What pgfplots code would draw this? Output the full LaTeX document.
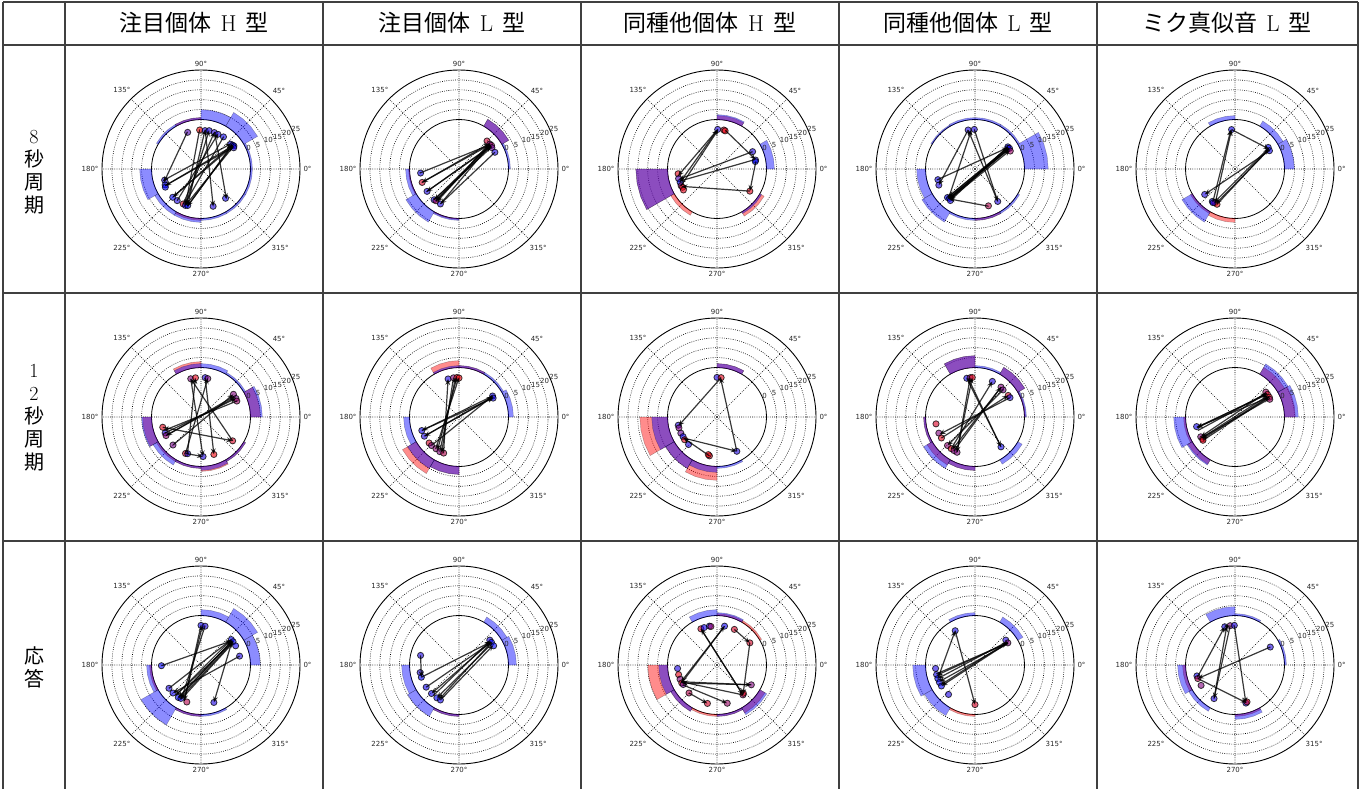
\documentclass[border=0pt]{standalone}
\usepackage{fontspec}
\usepackage{pgfplots}
\pgfplotsset{compat=1.18}
\usepgfplotslibrary{polar}
\usetikzlibrary{arrows.meta}
\newfontfamily\cjk{Noto Sans CJK JP}
\newfontfamily\dv{DejaVu Sans}
\newcommand\J[1]{{\cjk #1}}

\newcommand\Wdg[3]{%
  \pgfmathsetmacro\wdgA{#1}\pgfmathsetmacro\wdgB{#1+10}\pgfmathsetmacro\wdgC{#1+20}%
  \pgfmathsetmacro\wdgD{#1+30}\pgfmathsetmacro\wdgR{25+#2}%
  \addplot[draw=black, draw opacity=0.3, line width=0.4pt, fill=#3, fill opacity=0.45]
    coordinates {(\wdgA,25) (\wdgA,\wdgR) (\wdgB,\wdgR) (\wdgC,\wdgR) (\wdgD,\wdgR) (\wdgD,25) (\wdgC,25) (\wdgB,25)} -- cycle;}
\newcommand\Rw[2]{\Wdg{#1}{#2}{red}}
\newcommand\Bw[2]{\Wdg{#1}{#2}{blue}}
\newcommand\Ar[2]{\addplot[black, opacity=0.78, line width=1.2pt, -{Stealth[length=6pt,width=4.8pt]}] coordinates {(#1,20) (#2,20)};}
\newcommand\Pts[1]{\addplot[scatter, only marks, mark=*, mark size=3.1pt, point meta=explicit, scatter/use mapped color={draw=black, fill=mapped color}, fill opacity=0.6, draw opacity=0.75, line width=0.8pt] coordinates {#1};}
\tikzset{rlab/.style={font=\dv\fontsize{7}{8}\selectfont, text=black!85, inner sep=0pt}}
\newcommand\rl{%
  \node[rlab] at (axis cs:24,26.3) {0};
  \node[rlab] at (axis cs:23,31.3) {5};
  \node[rlab] at (axis cs:23,37) {10};
  \node[rlab] at (axis cs:23,42) {15};
  \node[rlab] at (axis cs:23,47) {20};
  \node[rlab] at (axis cs:23,52) {25};}

\pgfplotsset{
  panel/.style={
    anchor=center, width=198pt, height=198pt, scale only axis,
    xmin=0, xmax=360, ymin=0, ymax=50, clip=false, clip marker paths=true,
    xtick={0,45,...,315},
    xticklabels={0°,45°,90°,135°,180°,225°,270°,315°},
    xticklabel style={font=\dv\fontsize{7}{8}\selectfont, text=black!85},
    ytick={30,35,40,45}, yticklabels={},
    extra y ticks={25}, extra y tick labels={},
    extra y tick style={major grid style={solid, black, line width=0.8pt}},
    grid=major, major grid style={dash pattern=on 0.8pt off 1.4pt, black, line width=0.6pt},
    major tick length=0pt,
    axis line style={black, line width=0.9pt},
    y axis line style={draw=none},
    colormap={br}{rgb255=(0,0,255) rgb255=(255,0,0)},
    point meta min=0, point meta max=1,
  },
}

\begin{document}
\begin{tikzpicture}
\path[use as bounding box] (0,0) rectangle (1370pt,-789pt);
% table lines
\begin{scope}[line width=1.2pt, black!75]
\draw (3pt,-2pt) -- (1358pt,-2pt);
\draw (3pt,-45pt) -- (1358pt,-45pt);
\draw (3pt,-293pt) -- (1358pt,-293pt);
\draw (3pt,-541pt) -- (1358pt,-541pt);
\foreach \x in {3,65,323,581,839,1097,1358} \draw (\x pt,-2pt) -- (\x pt,-789pt);
\end{scope}
\begin{scope}[every node/.style={font=\fontsize{23}{25}\selectfont}]
\node at (194pt,-23pt) {\J{注目個体}\hspace{0.4em}H\hspace{0.4em}\J{型}};
\node at (452pt,-23pt) {\J{注目個体}\hspace{0.4em}L\hspace{0.4em}\J{型}};
\node at (710pt,-23pt) {\J{同種他個体}\hspace{0.4em}H\hspace{0.4em}\J{型}};
\node at (968pt,-23pt) {\J{同種他個体}\hspace{0.4em}L\hspace{0.4em}\J{型}};
\node at (1227pt,-23pt) {\J{ミク真似音}\hspace{0.4em}L\hspace{0.4em}\J{型}};
\end{scope}
\begin{scope}[every node/.style={font=\fontsize{20}{23}\selectfont, align=center}]
\node at (34pt,-172pt) {8\\\J{秒}\\\J{周}\\\J{期}};
\node at (34pt,-418pt) {1\\2\\\J{秒}\\\J{周}\\\J{期}};
\node at (34pt,-667pt) {\J{応}\\\J{答}};
\end{scope}

% ---------------- row 1 ----------------
\begin{polaraxis}[panel, at={(201pt,-169pt)}]
\Rw{90}{1}\Rw{240}{1}
\Bw{0}{1}\Bw{30}{8}\Bw{60}{5}\Bw{90}{1}\Bw{120}{1}\Bw{180}{6}\Bw{210}{2}\Bw{240}{2}\Bw{270}{1}\Bw{300}{1}\Bw{330}{1}
\Pts{(110,19.7)[0.3] (92,19.7)[1] (84,19.5)[0.1] (78,19.8)[0.1] (70,19.6)[0.15] (64,19.5)[0.1] (55,19.8)[0.05] (40,19.5)[0] (37,20)[0] (35,20.3)[0] (33,19.7)[0.1] (197,19.2)[0.1] (204,19.8)[0] (207,20.2)[0] (225,20.2)[0] (233,20)[0.1] (243,19.8)[0.85] (247,20)[0] (250,19.6)[0] (288,19.8)[0.1] (310,19.3)[0.05]}
\Ar{247}{78}\Ar{250}{84}\Ar{243}{70}\Ar{84}{288}\Ar{70}{310}\Ar{233}{64}\Ar{55}{245}\Ar{37}{250}\Ar{35}{247}\Ar{38}{225}\Ar{36}{205}\Ar{205}{34}\Ar{197}{40}\Ar{110}{200}\Ar{92}{247}\Ar{250}{38}\Ar{225}{36}
\rl
\end{polaraxis}

\begin{polaraxis}[panel, at={(459pt,-169pt)}]
\Rw{30}{4}\Rw{180}{0.5}\Rw{240}{0.5}
\Bw{30}{4}\Bw{0}{1}\Bw{180}{2}\Bw{210}{6}\Bw{240}{1}
\Pts{(45,20)[0.8] (39,20)[0.5] (36,20.3)[0.6] (33,19.8)[0.4] (25,20)[0.1] (186,19.5)[0.05] (200,19.8)[0.85] (215,19.7)[0.1] (231,20)[0.05] (234,19.8)[0.65] (242,20)[0.1]}
\Ar{186}{38}\Ar{38}{200}\Ar{200}{40}\Ar{36}{215}\Ar{215}{35}\Ar{34}{231}\Ar{231}{37}\Ar{39}{234}\Ar{234}{36}\Ar{25}{242}\Ar{242}{38}\Ar{40}{236}
\rl
\end{polaraxis}

\begin{polaraxis}[panel, at={(717pt,-169pt)}]
\Rw{60}{2}\Rw{180}{16}\Rw{210}{2}\Rw{300}{2.5}
\Bw{60}{2.5}\Bw{0}{4}\Bw{180}{16}\Bw{300}{1}
\Pts{(89,20)[0.1] (80,20)[0.85] (78,19.7)[0.95] (26,20)[0.1] (13,20)[0.05] (11,19.7)[0] (326,20)[0.9] (187,19.8)[0.9] (194,20)[0.3] (200,19.8)[0] (205,20)[0.6] (208,19.7)[0.95] (212,20)[0.9]}
\Ar{89}{190}\Ar{205}{88}\Ar{78}{14}\Ar{14}{198}\Ar{26}{195}\Ar{11}{326}\Ar{326}{206}\Ar{200}{89}
\rl
\end{polaraxis}

\begin{polaraxis}[panel, at={(975pt,-169pt)}]
\Rw{270}{1}
\Bw{0}{12}\Bw{30}{1}\Bw{60}{1}\Bw{90}{1}\Bw{120}{0.7}\Bw{180}{4.5}\Bw{210}{6}\Bw{240}{1}\Bw{270}{1}\Bw{300}{1}
\Pts{(100,20)[0.1] (91,20)[0.1] (34,20)[0] (32,19.6)[0] (31,20.3)[0.1] (27,20)[0.6] (196,19.5)[0.05] (204,20)[0.1] (226,20)[0] (229,19.6)[0] (232,20.2)[0.05] (290,19.8)[0.7] (305,20)[0.1]}
\Ar{30}{228}\Ar{32}{226}\Ar{34}{230}\Ar{31}{229}\Ar{228}{31}\Ar{226}{33}\Ar{230}{28}\Ar{232}{34}\Ar{91}{305}\Ar{100}{204}\Ar{228}{95}\Ar{290}{229}\Ar{196}{33}\Ar{305}{100}
\rl
\end{polaraxis}

\begin{polaraxis}[panel, at={(1235pt,-169pt)}]
\Rw{210}{1}\Rw{240}{2}
\Bw{0}{5}\Bw{30}{3}\Bw{90}{2}\Bw{210}{6}
\Pts{(95,20)[0.05] (33,20)[0] (28,19.7)[0.05] (220,20)[0.1] (235,20)[0] (239,19.8)[0.9] (243,20)[0.95] (237,20.3)[0.1]}
\Ar{240}{95}\Ar{236}{96}\Ar{32}{238}\Ar{30}{241}\Ar{28}{220}\Ar{243}{31}\Ar{95}{30}
\rl
\end{polaraxis}

% ---------------- row 2 ----------------
\begin{polaraxis}[panel, at={(201pt,-417pt)}]
\Rw{0}{5}\Rw{90}{3}\Rw{180}{4.5}\Rw{210}{1}\Rw{240}{1}\Rw{270}{2.5}\Rw{300}{1}
\Bw{0}{6}\Bw{30}{1}\Bw{60}{2}\Bw{90}{2}\Bw{180}{5}\Bw{210}{3}\Bw{240}{1}\Bw{270}{2}\Bw{300}{1}
\Pts{(105,20)[0.5] (98,20)[0.9] (84,20)[0.1] (80,19.7)[0.5] (35,20)[0.5] (28,20)[0.45] (24,19.8)[0.6] (195,20)[0.9] (204,19.8)[0.1] (208,20)[0.55] (225,20)[0.45] (247,20)[0.85] (250,19.7)[0.1] (273,20)[0.1] (289,20)[0.95] (323,20)[0.85]}
\Ar{84}{289}\Ar{105}{273}\Ar{250}{98}\Ar{247}{80}\Ar{30}{208}\Ar{204}{28}\Ar{195}{323}\Ar{323}{105}\Ar{225}{35}\Ar{24}{200}\Ar{247}{273}\Ar{208}{32}
\rl
\end{polaraxis}

\begin{polaraxis}[panel, at={(459pt,-417pt)}]
\Rw{90}{3.5}\Rw{60}{1}\Rw{210}{8}\Rw{240}{4}
\Bw{90}{1}\Bw{60}{1}\Bw{30}{1}\Bw{0}{2.5}\Bw{180}{3}\Bw{210}{5}\Bw{240}{4}
\Pts{(106,20)[0.1] (98,20)[0.5] (93,20)[0.9] (90,19.7)[0.95] (32,20)[0.05] (29,19.7)[0.05] (200,20)[0.05] (209,20)[0.1] (221,20)[0.85] (226,20)[0.5] (234,19.8)[0.55] (241,20)[0.5] (247,19.8)[0.7]}
\Ar{32}{200}\Ar{30}{209}\Ar{209}{31}\Ar{241}{95}\Ar{247}{106}\Ar{93}{237}\Ar{98}{244}\Ar{226}{32}\Ar{200}{29}\Ar{234}{90}
\rl
\end{polaraxis}

\begin{polaraxis}[panel, at={(717pt,-417pt)}]
\Rw{60}{2}\Rw{180}{14}\Rw{210}{5}\Rw{240}{7}
\Bw{60}{2}\Bw{180}{8}\Bw{210}{5}\Bw{240}{3}\Bw{270}{1}
\Pts{(90,20)[0.1] (84,20)[0.9] (300,20)[0.1] (192,20)[0.1] (196,20)[0.5] (204,20)[0.4] (210,19.8)[0.05] (215,20)[0.9] (224,20)[0.1] (259,20)[0.9] (257,19.5)[0.95]}
\Ar{84}{193}\Ar{300}{85}\Ar{212}{300}\Ar{259}{212}
\rl
\end{polaraxis}

\begin{polaraxis}[panel, at={(975pt,-417pt)}]
\Rw{90}{6}\Rw{30}{4}\Rw{0}{0.5}\Rw{180}{1}\Rw{210}{3}\Rw{240}{2}
\Bw{90}{6}\Bw{30}{4}\Bw{60}{1}\Bw{0}{1}\Bw{180}{1}\Bw{210}{5}\Bw{240}{2}\Bw{300}{2.5}
\Pts{(102,20)[0.05] (97,20)[0.6] (94,20)[0.9] (64,20)[0.1] (49,20)[0.5] (44,19.7)[0.45] (33,20)[0.85] (29,20.2)[0.1] (190,20)[0.85] (204,20)[0.5] (212,20)[0.9] (226,20)[0.55] (233,20)[0.9] (238,20)[0.5] (243,20)[0.5] (311,20)[0.05]}
\Ar{102}{311}\Ar{97}{243}\Ar{233}{64}\Ar{238}{49}\Ar{212}{33}\Ar{29}{206}\Ar{44}{226}\Ar{243}{94}\Ar{311}{100}\Ar{49}{235}
\rl
\end{polaraxis}

\begin{polaraxis}[panel, at={(1235pt,-417pt)}]
\Rw{30}{4}\Rw{0}{5.5}\Rw{180}{1}\Rw{210}{2.5}
\Bw{30}{6}\Bw{0}{7}\Bw{180}{6}\Bw{210}{3}
\Pts{(39,20)[0.6] (35,20)[0.85] (30,20)[0.9] (27,19.7)[0.6] (194,20)[0.05] (210,20)[0.5] (214,19.7)[0.85] (216,20)[0.9]}
\Ar{30}{195}\Ar{195}{35}\Ar{28}{212}\Ar{212}{33}\Ar{38}{210}\Ar{216}{30}\Ar{31}{214}\Ar{200}{37}\Ar{36}{196}
\rl
\end{polaraxis}

% ---------------- row 3 ----------------
\begin{polaraxis}[panel, at={(201pt,-665pt)}]
\Rw{180}{1}\Rw{240}{1}
\Bw{30}{8}\Bw{60}{3}\Bw{0}{5}\Bw{180}{2.5}\Bw{210}{10}\Bw{240}{1}\Bw{270}{1}
\Pts{(90,20)[0.05] (84,19.7)[0.1] (40,20)[0] (36,20)[0] (29,20)[0.05] (13,20)[0.1] (181,20)[0] (216,20)[0.1] (225,20)[0.05] (235,20)[0] (239,19.7)[0] (249,20)[0.7] (289,20)[0.1]}
\Ar{181}{38}\Ar{238}{36}\Ar{236}{38}\Ar{240}{35}\Ar{36}{230}\Ar{38}{235}\Ar{90}{245}\Ar{245}{88}\Ar{38}{289}\Ar{13}{225}\Ar{216}{40}\Ar{84}{240}\Ar{230}{40}
\rl
\end{polaraxis}

\begin{polaraxis}[panel, at={(459pt,-665pt)}]
\Rw{240}{1}
\Bw{30}{3}\Bw{0}{4}\Bw{180}{4}\Bw{210}{5}\Bw{240}{1}
\Pts{(39,20)[0.1] (35,20)[0] (29,20)[0] (166,20)[0.1] (191,20)[0.1] (198,20)[0] (214,20)[0.05] (226,20)[0.05] (236,20)[0] (242,20)[0.05]}
\Ar{198}{36}\Ar{36}{226}\Ar{33}{236}\Ar{242}{30}\Ar{230}{38}\Ar{214}{35}\Ar{166}{198}\Ar{35}{240}
\rl
\end{polaraxis}

\begin{polaraxis}[panel, at={(717pt,-665pt)}]
\Rw{30}{1}\Rw{60}{1}\Rw{180}{10}\Rw{210}{2}\Rw{240}{1}\Rw{270}{1}\Rw{300}{3}
\Bw{90}{3}\Bw{60}{1.5}\Bw{180}{4.5}\Bw{210}{2}\Bw{270}{1}\Bw{300}{4}
\Pts{(114,20)[0.85] (109,20)[0.05] (101,20)[0.05] (99,19.7)[0.6] (79,20)[0.05] (64,20)[0.85] (34,20)[0.85] (330,20)[0.5] (311,20)[0.6] (313,19.5)[0.9] (185,20)[0.1] (194,20)[0.9] (201,20)[0.5] (207,20)[0.9] (210,19.7)[0.4] (225,20)[0.7] (256,20)[0.85] (285,20)[0.6]}
\Ar{64}{34}\Ar{79}{205}\Ar{207}{79}\Ar{114}{311}\Ar{34}{311}\Ar{311}{205}\Ar{330}{207}\Ar{205}{330}\Ar{210}{285}\Ar{225}{256}\Ar{311}{114}
\rl
\end{polaraxis}

\begin{polaraxis}[panel, at={(975pt,-665pt)}]
\Rw{240}{1}
\Bw{30}{3}\Bw{90}{1.5}\Bw{180}{6.5}\Bw{210}{4.5}
\Pts{(120,20)[0.05] (39,20)[0.1] (34,20)[0.5] (185,20)[0.1] (194,20)[0.05] (200,20)[0] (206,20)[0] (212,20)[0] (228,20)[0.1] (270,20)[0.85]}
\Ar{34}{195}\Ar{36}{200}\Ar{33}{205}\Ar{35}{210}\Ar{34}{212}\Ar{193}{34}\Ar{200}{120}\Ar{120}{270}
\rl
\end{polaraxis}

\begin{polaraxis}[panel, at={(1235pt,-665pt)}]
\Rw{180}{1.5}\Rw{270}{1}
\Bw{90}{4.5}\Bw{60}{1}\Bw{0}{1}\Bw{180}{4}\Bw{210}{2}\Bw{270}{2.5}
\Pts{(105,20)[0.05] (97,20)[0.5] (91,20)[0.1] (27,20)[0.1] (196,20)[0.05] (200,20)[0.7] (211,20)[0.5] (238,20)[0.1] (286,20)[0.05] (288,19.6)[0.85]}
\Ar{27}{200}\Ar{198}{105}\Ar{97}{238}\Ar{238}{102}\Ar{91}{286}\Ar{200}{287}\Ar{105}{97}
\rl
\end{polaraxis}
\end{tikzpicture}
\end{document}
